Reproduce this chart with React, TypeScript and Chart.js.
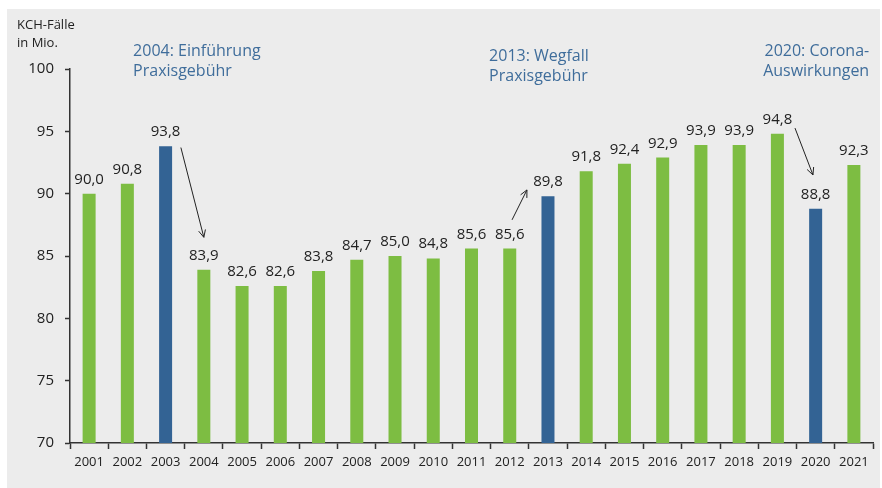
import React, { useEffect, useRef } from "react";
import { Chart, registerables } from "chart.js";

Chart.register(...registerables);

const years = ["2001", "2002", "2003", "2004", "2005", "2006", "2007", "2008", "2009", "2010", "2011", "2012", "2013", "2014", "2015", "2016", "2017", "2018", "2019", "2020", "2021"];
const cases = [90.0, 90.8, 93.8, 83.9, 82.6, 82.6, 83.8, 84.7, 85.0, 84.8, 85.6, 85.6, 89.8, 91.8, 92.4, 92.9, 93.9, 93.9, 94.8, 88.8, 92.3];
const highlightYears = ["2003", "2013", "2020"];
const yMin = 70;
const yMax = 100;
const yStep = 5;
const axisTitle = ["KCH-Fälle", "in Mio."];

// annotation texts anchored in data coordinates (category index, value)
const noteTexts = [
  ["2004: Einführung", "Praxisgebühr"],
  ["2013: Wegfall", "Praxisgebühr"],
  ["2020: Corona-", "Auswirkungen"],
];
const noteX = [1.15, 10.46, 20.4];
const noteY = [101.4, 101.0, 101.4];
const noteAlign = ["left", "left", "right"];

// arrows in data coordinates
const arrowFromX = [2.4, 11.06, 18.46];
const arrowFromY = [93.7, 87.9, 95.26];
const arrowToX = [3.0, 11.45, 18.93];
const arrowToY = [86.5, 90.3, 91.5];

const FONT = "'Open Sans', 'Noto Sans', sans-serif";
const GREEN = "#7dbd42";
const BLUE = "#336394";
const NOTE = "#3f6d9b";
const TEXT = "#222222";

const fmt = (v: number) => v.toFixed(1).replace(".", ",");

const overlayPlugin = {
  id: "overlay",
  afterDatasetsDraw(chart: any) {
    const ctx = chart.ctx;
    const xs = chart.scales.x;
    const ys = chart.scales.y;
    const meta = chart.getDatasetMeta(0);
    ctx.save();
    // value labels
    ctx.fillStyle = TEXT;
    ctx.font = `15px ${FONT}`;
    ctx.textAlign = "center";
    ctx.textBaseline = "alphabetic";
    meta.data.forEach((bar: any, i: number) => {
      ctx.fillText(fmt(cases[i]), bar.x, bar.y - 10);
    });
    // axis title
    ctx.font = `13px ${FONT}`;
    ctx.textAlign = "left";
    ctx.textBaseline = "middle";
    axisTitle.forEach((t, i) => ctx.fillText(t, 10, 16 + i * 18));
    // notes
    const pxX = (v: number) => xs.left + ((v + 0.5) / years.length) * (xs.right - xs.left);
    ctx.fillStyle = NOTE;
    ctx.font = `16px ${FONT}`;
    noteTexts.forEach((lines, k) => {
      ctx.textAlign = noteAlign[k] as CanvasTextAlign;
      const x = pxX(noteX[k]);
      const y0 = ys.getPixelForValue(noteY[k]);
      lines.forEach((t, j) => ctx.fillText(t, x, y0 + j * 20));
    });
    // arrows
    ctx.strokeStyle = "#222";
    ctx.lineWidth = 1;
    arrowFromX.forEach((_, k) => {
      const x1 = pxX(arrowFromX[k]);
      const y1 = ys.getPixelForValue(arrowFromY[k]);
      const x2 = pxX(arrowToX[k]);
      const y2 = ys.getPixelForValue(arrowToY[k]);
      ctx.beginPath();
      ctx.moveTo(x1, y1);
      ctx.lineTo(x2, y2);
      ctx.stroke();
      const a = Math.atan2(y2 - y1, x2 - x1);
      const L = 8;
      const s = 0.45;
      ctx.beginPath();
      ctx.moveTo(x2 - L * Math.cos(a - s), y2 - L * Math.sin(a - s));
      ctx.lineTo(x2, y2);
      ctx.lineTo(x2 - L * Math.cos(a + s), y2 - L * Math.sin(a + s));
      ctx.stroke();
    });
    ctx.restore();
  },
};

export default function App() {
  const ref = useRef<HTMLCanvasElement | null>(null);
  useEffect(() => {
    if (!ref.current) return;
    const chart = new Chart(ref.current, {
      type: "bar",
      data: {
        labels: years,
        datasets: [
          {
            data: cases,
            backgroundColor: years.map((y) => (highlightYears.includes(y) ? BLUE : GREEN)),
            borderWidth: 0,
            barPercentage: 0.34,
            categoryPercentage: 1,
          },
        ],
      },
      options: {
        responsive: false,
        animation: false,
        layout: { padding: { top: 60, right: 7, left: 0, bottom: 0 } },
        plugins: { legend: { display: false }, tooltip: { enabled: false } },
        scales: {
          x: {
            afterFit: (s: any) => {
              s.height = 45;
            },
            grid: {
              display: true,
              drawOnChartArea: false,
              drawTicks: true,
              tickLength: 6,
              tickWidth: 1.5,
              tickColor: "#333",
              offset: true,
            },
            border: { display: true, color: "#333", width: 1.5 },
            ticks: { color: TEXT, font: { size: 13, family: FONT }, padding: 5, maxRotation: 0, autoSkip: false },
          },
          y: {
            min: yMin,
            max: yMax,
            afterFit: (s: any) => {
              s.width = 63;
            },
            grid: {
              display: true,
              drawOnChartArea: false,
              drawTicks: true,
              tickLength: 5,
              tickWidth: 1.5,
              tickColor: "#333",
            },
            border: { display: true, color: "#333", width: 1.5 },
            ticks: { stepSize: yStep, color: TEXT, font: { size: 15, family: FONT }, padding: 11 },
          },
        },
      },
      plugins: [overlayPlugin],
    });
    return () => chart.destroy();
  }, []);
  return (
    <div style={{ position: "absolute", left: 0, top: 0, width: 882, height: 488, background: "#fff" }}>
      <div style={{ position: "absolute", left: 7, top: 9, width: 873, height: 479, background: "#ececec" }}>
        <canvas ref={ref} width={873} height={479} style={{ display: "block" }} />
      </div>
    </div>
  );
}
